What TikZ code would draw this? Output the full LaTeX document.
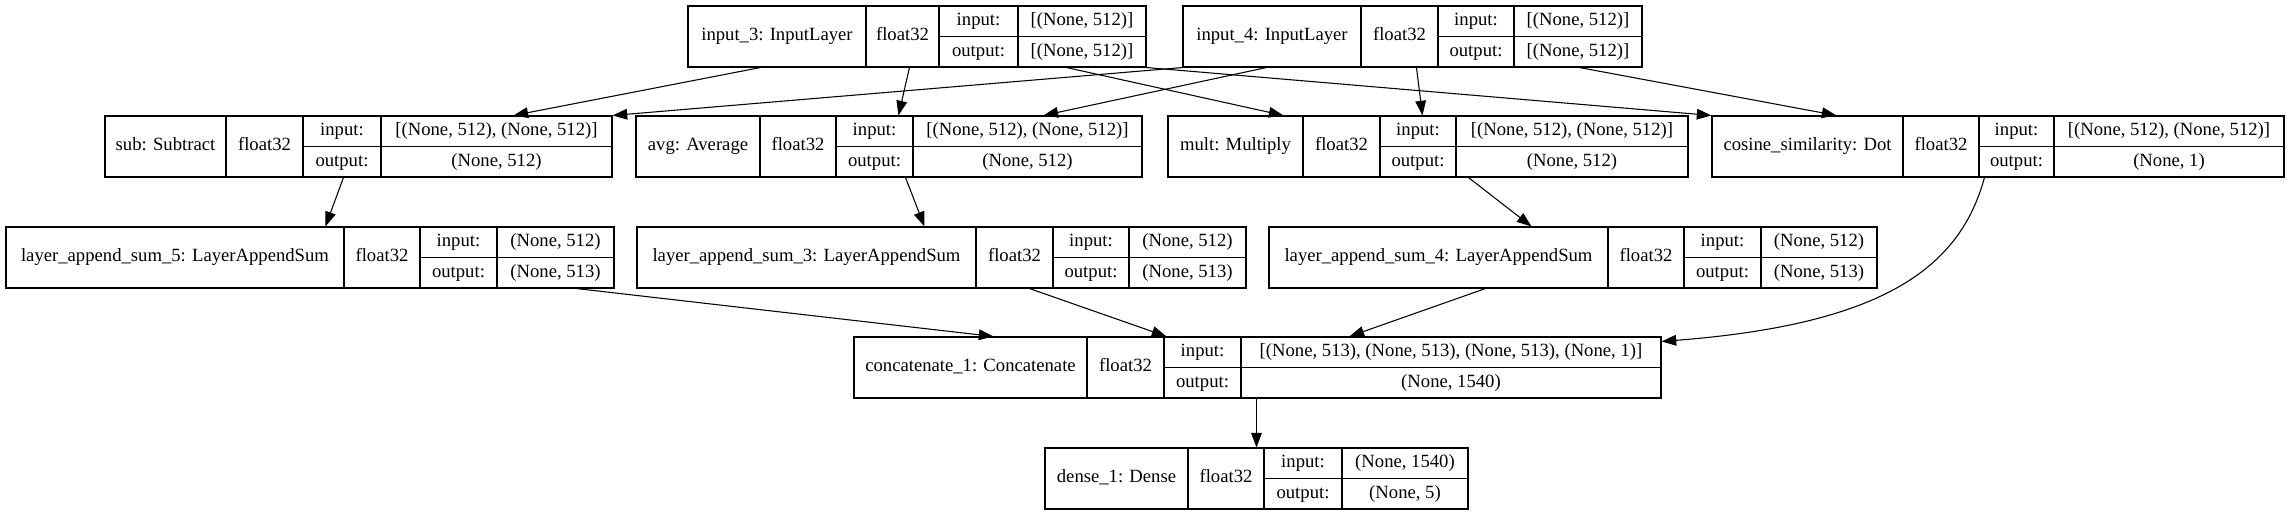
\documentclass[tikz,border=0pt]{standalone}
\usepackage{fontspec}
\setmainfont{Liberation Serif}
\usetikzlibrary{arrows.meta,calc,fit}
\tikzset{
  lbox/.style={draw, inner sep=0pt, line width=0.8pt},
  cell/.style={line width=0.8pt},
  txt/.style={inner sep=0pt, text height=9.6pt, text depth=3.2pt, font=\fontsize{14pt}{16pt}\selectfont},
  edge/.style={line width=0.8pt, -{Triangle[length=11pt,width=8pt]}},
}
\newcommand\klayer[9]{%
  \node[lbox, fit={(#2,#7) (#6,#7+61)}] (#1) {};
  \draw[cell] (#3,#7) -- (#3,#7+61) (#4,#7) -- (#4,#7+61) (#5,#7) -- (#5,#7+61) (#4,#7+30.5) -- (#6,#7+30.5);
  \node[txt] (#1-name) at ({(#2+#3)/2},#7+30.5) {#8};
  \node[txt] (#1-type) at ({(#3+#4)/2},#7+30.5) {float32};
  \node[txt] (#1-il) at ({(#4+#5)/2},#7+15.25) {input:};
  \node[txt] (#1-ol) at ({(#4+#5)/2},#7+45.75) {output:};
  \def\klayerio##1|##2\relax{%
    \node[txt] (#1-iv) at ({(#5+#6)/2},#7+15.25) {##1};
    \node[txt] (#1-ov) at ({(#5+#6)/2},#7+45.75) {##2};}%
  \klayerio#9\relax}
\begin{document}
\begin{tikzpicture}[x=0.75pt,y=-0.75pt]
\useasboundingbox[fill=white] (0,0) rectangle (2293,516);
% row 1
\klayer{in3}{688}{866}{939}{1018}{1146}{6}{input\_3: InputLayer}{[(None, 512)]|[(None, 512)]}
\klayer{in4}{1183}{1361}{1438}{1514}{1642}{6}{input\_4: InputLayer}{[(None, 512)]|[(None, 512)]}
% row 2
\klayer{sub}{105}{226}{303}{381}{612}{116}{sub: Subtract}{[(None, 512), (None, 512)]|(None, 512)}
\klayer{avg}{636}{760}{836}{913}{1142}{116}{avg: Average}{[(None, 512), (None, 512)]|(None, 512)}
\klayer{mult}{1168}{1303}{1380}{1456}{1688}{116}{mult: Multiply}{[(None, 512), (None, 512)]|(None, 512)}
\klayer{cos}{1712}{1903}{1979}{2054}{2284}{116}{cosine\_similarity: Dot}{[(None, 512), (None, 512)]|(None, 1)}
% row 3
\klayer{las5}{6}{344}{420}{497}{614}{227}{layer\_append\_sum\_5: LayerAppendSum}{(None, 512)|(None, 513)}
\klayer{las3}{637}{976}{1053}{1129}{1246}{227}{layer\_append\_sum\_3: LayerAppendSum}{(None, 512)|(None, 513)}
\klayer{las4}{1269}{1608}{1684}{1761}{1877}{227}{layer\_append\_sum\_4: LayerAppendSum}{(None, 512)|(None, 513)}
% row 4
\klayer{cat}{854}{1087}{1164}{1241}{1661}{337}{concatenate\_1: Concatenate}{[(None, 513), (None, 513), (None, 513), (None, 1)]|(None, 1540)}
% row 5
\klayer{dense}{1045}{1188}{1264}{1342}{1468}{448}{dense\_1: Dense}{(None, 1540)|(None, 5)}
% edges
\draw[edge] ($(in3.south west)+(73,0)$) -- ($(sub.north west)+(409,0)$);
\draw[edge] ($(in3.south west)+(222,0)$) -- ($(avg.north west)+(263,0)$);
\draw[edge] ($(in3.south west)+(379,0)$) -- ($(mult.north west)+(116,0)$);
\draw[edge] (in3.south east) -- (cos.north west);
\draw[edge] (in4.south west) -- (sub.north east);
\draw[edge] ($(in4.south west)+(84,0)$) -- ($(avg.north west)+(408,0)$);
\draw[edge] ($(in4.south west)+(234,0)$) -- ($(mult.north west)+(255,0)$);
\draw[edge] ($(in4.south west)+(397,0)$) -- ($(cos.north west)+(125,0)$);
\draw[edge] ($(sub.south west)+(239,0)$) -- ($(las5.north west)+(320,0)$);
\draw[edge] ($(avg.south west)+(270,0)$) -- ($(las3.north west)+(288,0)$);
\draw[edge] ($(mult.south west)+(301,0)$) -- ($(las4.north west)+(263,0)$);
\draw[edge] ($(cos.south west)+(273,0)$) .. controls +(-25,92) and +(219,-17) .. ($(cat.north east)+(0,5)$);
\draw[edge] ($(las5.south west)+(571,0)$) -- ($(cat.north west)+(140,0)$);
\draw[edge] ($(las3.south west)+(393,0)$) -- ($(cat.north west)+(313,0)$);
\draw[edge] ($(las4.south west)+(217,0)$) -- ($(cat.north west)+(496,0)$);
\draw[edge] ($(cat.south west)+(403,0)$) -- ($(dense.north west)+(212,0)$);
\end{tikzpicture}
\end{document}
